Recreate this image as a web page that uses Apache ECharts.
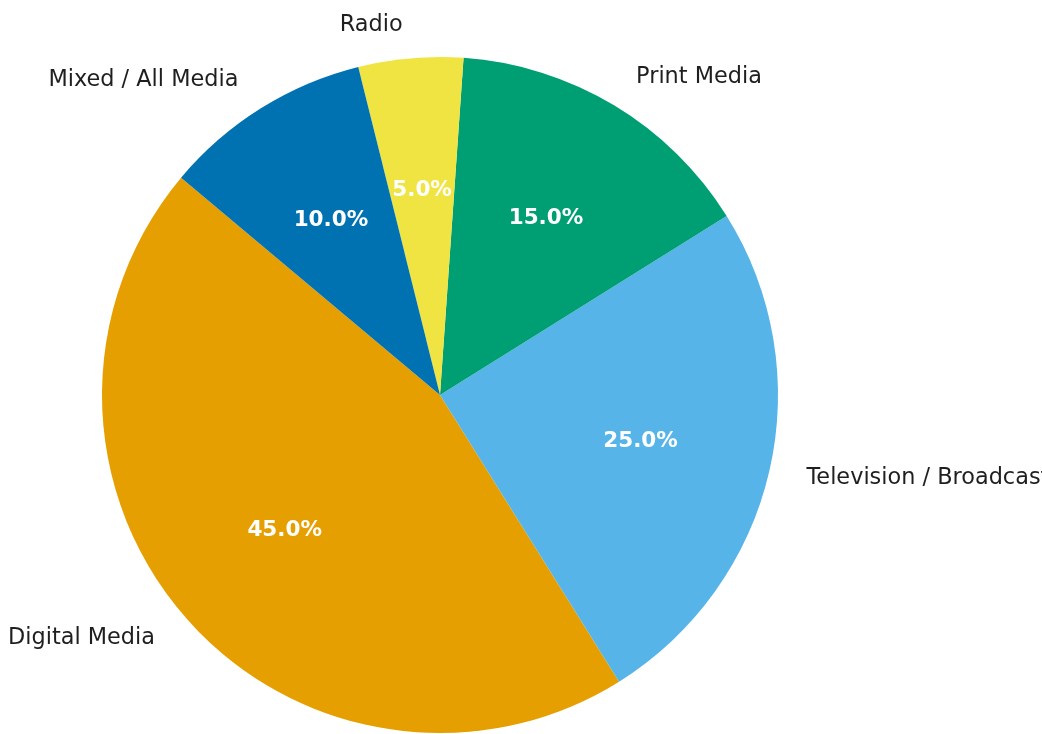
<!DOCTYPE html>
<html>
<head>
<meta charset="utf-8">
<title>Media share</title>
<script src="https://cdn.jsdelivr.net/npm/echarts@6/dist/echarts.min.js"></script>
<style>
  html, body { margin: 0; padding: 0; background: #fff; }
  #chart { width: 1042px; height: 734px; }
</style>
</head>
<body>
<div id="chart"></div>
<script>
// slice order follows the counter-clockwise drawing from startAngle
const categories = ['Digital Media', 'Television / Broadcast', 'Print Media', 'Radio', 'Mixed / All Media']
const shares = [45, 25, 15, 5, 10]
const palette = ['#E69F00', '#56B4E9', '#009E73', '#F0E442', '#0072B2']

const R = 338
const center = [440, 395]
const font = 'DejaVu Sans'

const pieData = categories.map((name, i) => ({
  name: name,
  value: shares[i],
  itemStyle: { color: palette[i] }
}))

const chart = echarts.init(document.getElementById('chart'), null, { renderer: 'canvas' })

chart.setOption({
  animation: false,
  backgroundColor: '#ffffff',
  series: [
    {
      // coloured wedges + category names outside
      type: 'pie',
      center: center,
      radius: [0, R],
      startAngle: 140,
      clockwise: false,
      avoidLabelOverlap: false,
      silent: true,
      data: pieData,
      label: {
        show: true,
        position: 'outside',
        alignTo: 'none',
        edgeDistance: 0,
        bleedMargin: 0,
        distanceToLabelLine: 5,
        overflow: 'none',
        color: '#1f1f1f',
        fontFamily: font,
        fontSize: 22.4,
        formatter: '{b}'
      },
      labelLine: { show: false, length: 33, length2: 0 }
    },
    {
      // transparent ring only used to place the percentages at 0.6 R
      type: 'pie',
      center: center,
      radius: [R * 0.2, R],
      startAngle: 140,
      clockwise: false,
      silent: true,
      data: pieData.map(d => ({ name: d.name, value: d.value, itemStyle: { color: 'rgba(0,0,0,0)' } })),
      label: {
        show: true,
        position: 'inside',
        color: '#ffffff',
        fontFamily: font,
        fontWeight: 'bold',
        fontSize: 21.5,
        formatter: p => p.percent.toFixed(1) + '%'
      },
      labelLine: { show: false }
    }
  ]
})
</script>
</body>
</html>
